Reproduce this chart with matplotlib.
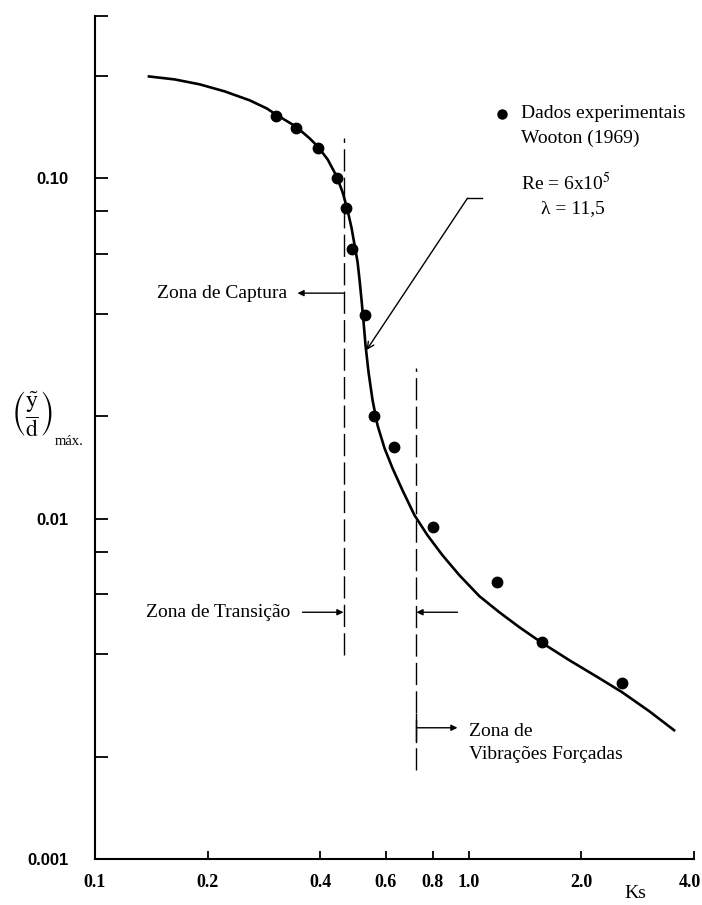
import matplotlib
matplotlib.use("Agg")
import matplotlib.pyplot as plt
from matplotlib.transforms import ScaledTranslation

plt.rcParams['font.family'] = ['Liberation Serif', 'DejaVu Serif']
plt.rcParams['mathtext.fontset'] = 'stix'
plt.rcParams['lines.scale_dashes'] = False

# curva teorica
ks_curve = [0.1394, 0.1635, 0.1907, 0.2224, 0.2594, 0.2880, 0.3043, 0.3442, 0.3751, 0.3940,
            0.4190, 0.4429, 0.4595, 0.4739, 0.4857, 0.4947, 0.5039, 0.5101, 0.5164, 0.5228,
            0.5291, 0.5391, 0.5525, 0.5698, 0.5949, 0.6248, 0.6644, 0.7152, 0.7748, 0.8497,
            0.9433, 1.0667, 1.206, 1.364, 1.5717, 1.855, 2.231, 2.570, 3.034, 3.5385]
y_curve = [0.1993, 0.1953, 0.1889, 0.1801, 0.1695, 0.1605, 0.1542, 0.1421, 0.1311, 0.1242,
           0.1137, 0.1014, 0.0910, 0.0805, 0.0713, 0.0636, 0.0567, 0.0502, 0.0438, 0.0378,
           0.0323, 0.0269, 0.0223, 0.0188, 0.0161, 0.01407, 0.01212, 0.01024, 0.00894, 0.00781,
           0.00682, 0.00592, 0.00531, 0.00480, 0.00431, 0.00384, 0.00340, 0.00309, 0.00272, 0.00239]

# dados experimentais Wooton (1969)
ks_exp = [0.304, 0.344, 0.394, 0.443, 0.468, 0.488, 0.529, 0.556, 0.632, 0.800, 1.19, 1.572, 2.57]
y_exp = [0.153, 0.141, 0.1225, 0.100, 0.0816, 0.0619, 0.0398, 0.0201, 0.0162, 0.00944, 0.00651, 0.00434, 0.00329]

# limites das zonas
ks_lim1 = 0.462
ks_lim2 = 0.724
lim1_y = (0.00397, 0.131)
lim2_y = (0.00183, 0.0277)

xticks = [0.1, 0.2, 0.4, 0.6, 0.8, 1.0, 2.0, 4.0]
xlabels = ['0.1', '0.2', '0.4', '0.6', '0.8', '1.0', '2.0', '4.0']
yticks = [0.002, 0.004, 0.006, 0.008, 0.01, 0.02, 0.04, 0.06, 0.08, 0.1, 0.2, 0.3]
ylabels = {0.01: '0.01', 0.1: '0.10'}

fig = plt.figure(figsize=(7.02, 9.05), dpi=100)
ax = fig.add_axes([95/702, 46/905, 599/702, 843/905])
ax.set_xscale('log')
ax.set_yscale('log')
ax.set_xlim(0.1, 4.0)
ax.set_ylim(0.001, 0.3)

ax.plot(ks_curve, y_curve, color='black', lw=1.9, solid_joinstyle='round')
ax.plot(ks_exp, y_exp, 'o', color='black', ms=7.5)

ax.plot([ks_lim1, ks_lim1], lim1_y, color='black', lw=1.0, dashes=(16, 4.5))
ax.plot([ks_lim2, ks_lim2], lim2_y, color='black', lw=1.0, dashes=(16, 4.5))

ap = dict(arrowstyle='-|>', color='black', lw=1.0, mutation_scale=9, shrinkA=0, shrinkB=0)
y_cap = 0.046
y_tr = 0.00531
y_vf = 0.00243
ax.annotate('', xy=(0.348, y_cap), xytext=(ks_lim1, y_cap), arrowprops=ap)
ax.text(0.326, y_cap, 'Zona de Captura', ha='right', va='center', fontsize=14)

ax.annotate('', xy=(ks_lim1, y_tr), xytext=(0.359, y_tr), arrowprops=ap)
ax.text(0.332, y_tr, 'Zona de Transição', ha='right', va='center', fontsize=14)
ax.annotate('', xy=(ks_lim2, y_tr), xytext=(0.932, y_tr), arrowprops=ap)

ax.annotate('', xy=(0.932, y_vf), xytext=(ks_lim2, y_vf), arrowprops=ap)
ax.plot([ks_lim2, ks_lim2], [y_vf * 0.91, y_vf * 1.10], color='black', lw=1.0)
ax.text(1.0, y_vf * 0.973, 'Zona de', ha='left', va='center', fontsize=14)
ax.text(1.0, y_vf * 0.833, 'Vibrações Forçadas', ha='left', va='center', fontsize=14)

# legenda
ax.plot([1.229], [0.155], 'o', color='black', ms=6.5)
ax.text(1.38, 0.155, 'Dados experimentais', ha='left', va='center', fontsize=14)
ax.text(1.38, 0.131, 'Wooton (1969)', ha='left', va='center', fontsize=14)
ax.text(1.38, 0.0967, r'Re = 6x10$^5$', ha='left', va='center', fontsize=14)
ax.text(1.562, 0.0816, 'λ = 11,5', ha='left', va='center', fontsize=14)

# seta indicando a curva
ax.plot([0.991, 1.087], [0.0874, 0.0874], color='black', lw=1.0)
ax.annotate('', xy=(0.5325, 0.0313), xytext=(0.991, 0.0874),
            arrowprops=dict(arrowstyle='->', color='black', lw=1.0, mutation_scale=12,
                            shrinkA=0, shrinkB=0))

for s in ['top', 'right']:
    ax.spines[s].set_visible(False)
for s in ['left', 'bottom']:
    ax.spines[s].set_linewidth(1.5)

ax.set_xticks(xticks)
ax.set_xticklabels(xlabels, fontweight='bold', fontsize=13)
ax.xaxis.set_minor_locator(matplotlib.ticker.NullLocator())
ax.set_yticks([0.001] + yticks)
ax.set_yticklabels(['0.001'] + [ylabels.get(v, '') for v in yticks],
                   fontweight='bold', fontsize=12, family='Liberation Sans')
ax.yaxis.set_minor_locator(matplotlib.ticker.NullLocator())
ax.tick_params(axis='x', direction='in', length=6, width=1.3, pad=11)
ax.tick_params(axis='y', direction='in', length=9, width=1.3, pad=19)

last = ax.get_xticklabels()[-1]
last.set_ha('right')
last.set_transform(last.get_transform() + ScaledTranslation(7/100, 0, fig.dpi_scale_trans))

fig.text(635/702, 1 - 893/905, 'Ks', ha='center', va='center', fontsize=14)
fig.text(11/702, 1 - 414/905,
         r'$\left(\dfrac{\tilde{\mathrm{y}}}{\mathrm{d}}\right)$',
         ha='left', va='center', fontsize=17)
fig.text(55/702, 1 - 441/905, 'máx.', ha='left', va='center', fontsize=10.5)

fig.savefig('out.png', dpi=100)
